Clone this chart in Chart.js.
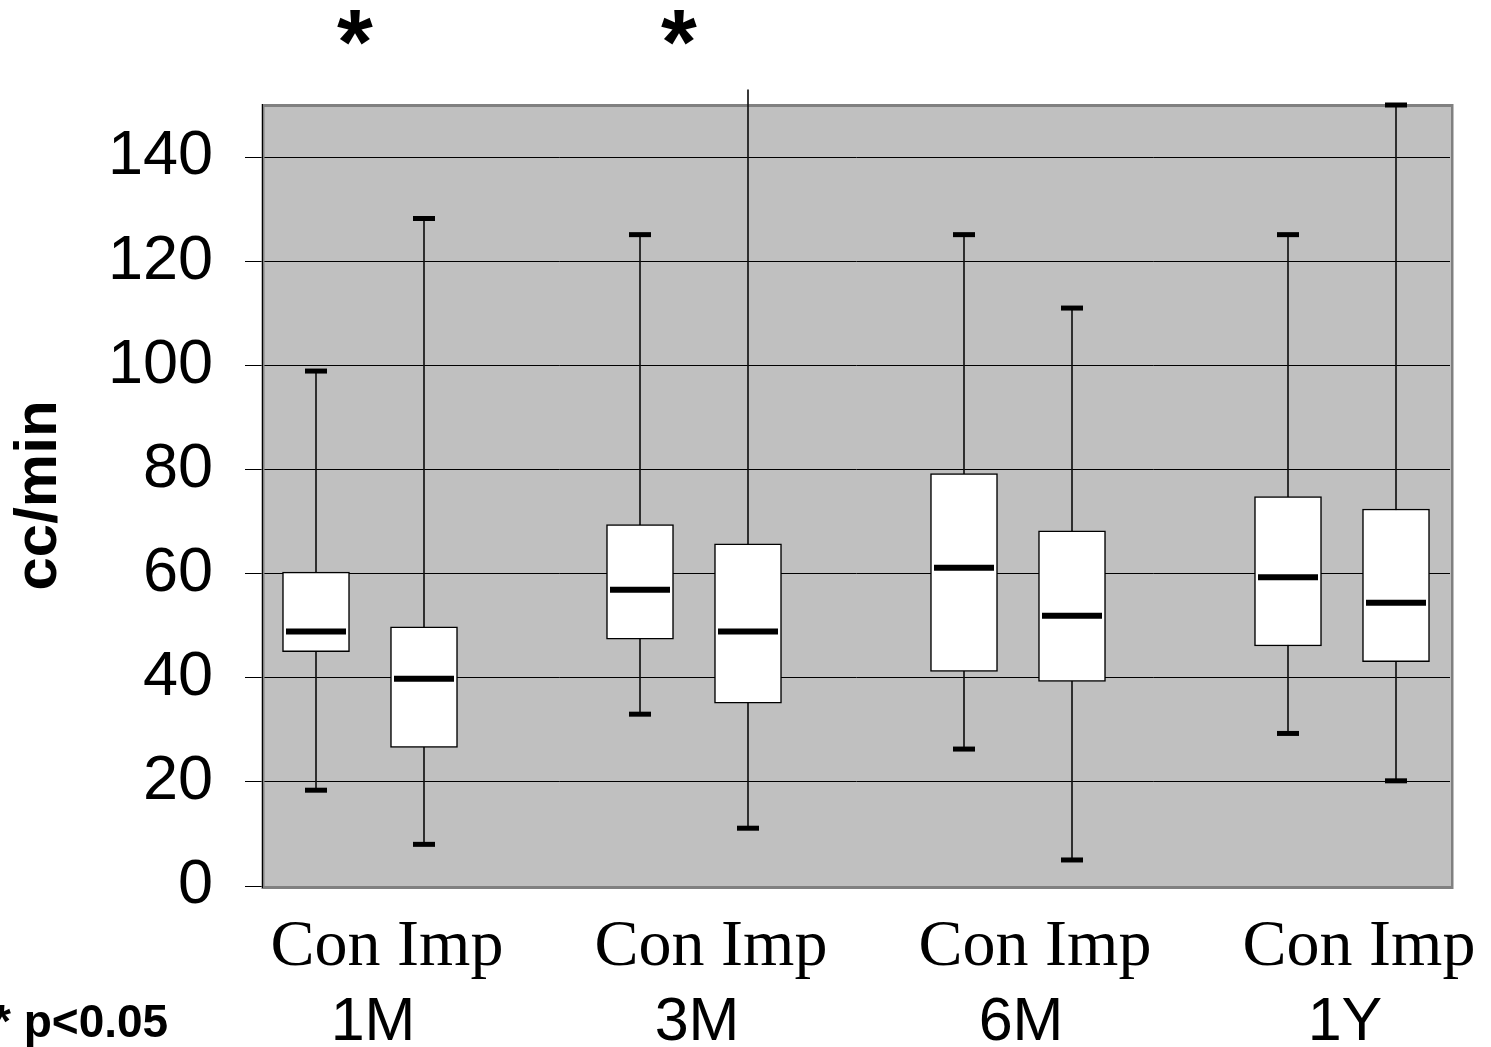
<!DOCTYPE html>
<html lang="en">
<head>
<meta charset="UTF-8">
<title>cc/min</title>
<style>
  body { margin: 0; background: #fff; }
  canvas { display: block; }
</style>
</head>
<body>
<canvas id="myChart" width="1491" height="1047"></canvas>
<script src="https://cdn.jsdelivr.net/npm/chart.js"></script>
<script>
const groups = ['1M', '3M', '6M', '1Y'];
const arms = ['Con', 'Imp'];
const significant = ['1M', '3M'];
const yTicks = [0, 20, 40, 60, 80, 100, 120, 140];
const yMax = 150;

// one value per box: Con 1M, Imp 1M, Con 3M, Imp 3M, Con 6M, Imp 6M, Con 1Y, Imp 1Y
const whiskerLow  = [18.4, 8.0, 33.0, 11.1, 26.3, 5.0, 29.3, 20.2];
const q1          = [45.0, 26.6, 47.4, 35.1, 41.2, 39.3, 46.1, 43.1];
const median      = [48.9, 39.8, 56.9, 48.9, 61.1, 51.9, 59.3, 54.4];
const q3          = [60.3, 49.8, 69.4, 65.7, 79.2, 68.2, 74.8, 72.4];
const whiskerHigh = [98.9, 128.2, 125.1, 152.9, 125.1, 111.0, 125.1, 150.0];

// categories: Con, Imp per group, with an empty slot between groups
const labels = [];
const slot = [];
groups.forEach((g, gi) => {
  if (gi > 0) { labels.push(''); slot.push(null); }
  arms.forEach((a, ai) => { labels.push(a + ' ' + g); slot.push(gi * arms.length + ai); });
});
const spread = arr => slot.map(i => i === null ? null : arr[i]);
const pairs = (lo, hi) => slot.map(i => i === null ? null : [lo[i], hi[i]]);

const decor = {
  id: 'decor',
  beforeDraw(chart) {
    const {ctx, chartArea: a} = chart;
    ctx.save();
    ctx.fillStyle = '#c0c0c0';
    ctx.fillRect(a.left, a.top, a.right - a.left, a.bottom - a.top);
    ctx.restore();
  },
  beforeDatasetsDraw(chart) {
    const {ctx, chartArea: a} = chart;
    ctx.save();
    ctx.strokeStyle = '#808080';
    ctx.lineWidth = 3;
    ctx.strokeRect(a.left + 1, a.top + 0.5, a.right - a.left + 1, a.bottom - a.top + 1);
    ctx.strokeStyle = '#000';
    ctx.lineWidth = 1;
    ctx.beginPath();
    ctx.moveTo(a.left + 0.5, a.top - 1);
    ctx.lineTo(a.left + 0.5, a.bottom + 2);
    ctx.stroke();
    ctx.restore();
  },
  afterDraw(chart) {
    const ctx = chart.ctx;
    const x = chart.scales.x;
    ctx.save();
    ctx.fillStyle = '#000';
    ctx.textAlign = 'center';
    ctx.textBaseline = 'alphabetic';
    groups.forEach((g, gi) => {
      const pCon = x.getPixelForValue(slot.indexOf(gi * 2));
      const pImp = x.getPixelForValue(slot.indexOf(gi * 2 + 1));
      const cx = (pCon + pImp) / 2;
      ctx.font = '66px "Liberation Serif", "Times New Roman", serif';
      ctx.fillText(arms.join(' '), cx + 17, 965);
      ctx.font = '61px "Liberation Sans", Arial, sans-serif';
      ctx.fillText(g, cx + 3, 1040);
      if (significant.includes(g)) {
        ctx.font = 'bold 92px "Liberation Sans", Arial, sans-serif';
        ctx.fillText('*', cx - 15, 74);
      }
    });
    ctx.textAlign = 'left';
    ctx.font = 'bold 46px "Liberation Sans", Arial, sans-serif';
    ctx.fillText('* p<0.05', -7, 1037);
    ctx.restore();
  }
};

const ctx = document.getElementById('myChart');
new Chart(ctx, {
  type: 'bar',
  data: {
    labels: labels,
    datasets: [
      {
        type: 'bar', label: 'range',
        data: pairs(whiskerLow, whiskerHigh),
        backgroundColor: '#111',
        barThickness: 1,
        grouped: false,
        clip: false,
        order: 4
      },
      {
        type: 'bar', label: 'box',
        data: pairs(q1, q3),
        backgroundColor: '#fff',
        borderColor: '#000',
        borderWidth: 1.5,
        borderSkipped: false,
        barThickness: 67,
        grouped: false,
        order: 2
      },
      {
        type: 'line', label: 'low',
        data: spread(whiskerLow),
        showLine: false,
        pointStyle: 'line',
        pointRadius: 11,
        pointBorderWidth: 5,
        borderColor: '#000',
        pointBorderColor: '#000',
        clip: false,
        order: 3
      },
      {
        // a whisker that runs past the top of the axis gets no cap
        type: 'line', label: 'high',
        data: slot.map(i => (i === null || whiskerHigh[i] > yMax) ? null : whiskerHigh[i]),
        showLine: false,
        pointStyle: 'line',
        pointRadius: 11,
        pointBorderWidth: 5,
        borderColor: '#000',
        pointBorderColor: '#000',
        clip: false,
        order: 3
      },
      {
        type: 'line', label: 'median',
        data: spread(median),
        showLine: false,
        pointStyle: 'line',
        pointRadius: 30,
        pointBorderWidth: 6,
        borderColor: '#000',
        pointBorderColor: '#000',
        order: 1
      }
    ]
  },
  options: {
    responsive: false,
    animation: false,
    events: [],
    devicePixelRatio: 1,
    layout: { padding: { left: 0, right: 41, top: 105, bottom: 161 } },
    plugins: { legend: { display: false }, tooltip: { enabled: false } },
    scales: {
      x: { type: 'category', display: false, offset: true },
      y: {
        min: 0,
        max: yMax,
        afterBuildTicks: s => { s.ticks = yTicks.map(v => ({ value: v })); },
        afterFit: s => { s.width = 262; },
        ticks: {
          color: '#000',
          padding: 32,
          font: { family: '"Liberation Sans", Arial, sans-serif', size: 63 }
        },
        grid: { color: '#000', lineWidth: 1, drawTicks: true, tickLength: 17, tickColor: '#000' },
        border: { display: true, color: '#000', width: 1 },
        title: {
          display: true,
          text: 'cc/min',
          color: '#000',
          padding: { top: 3, bottom: 0 },
          font: { family: '"Liberation Sans", Arial, sans-serif', size: 60, weight: 'bold' }
        }
      }
    }
  },
  plugins: [decor]
});
</script>
</body>
</html>
